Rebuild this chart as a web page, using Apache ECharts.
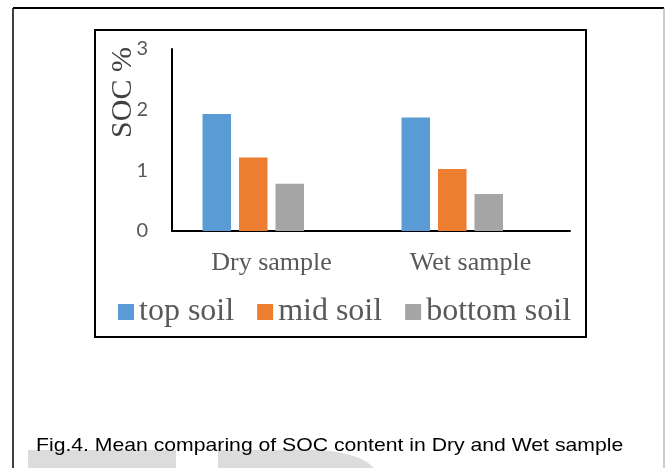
<!DOCTYPE html>
<html>
<head>
<meta charset="utf-8">
<script src="https://cdn.jsdelivr.net/npm/echarts@6/dist/echarts.min.js"></script>
<style>
html,body{margin:0;padding:0;background:#fff;}
#c{width:665px;height:468px;}
</style>
</head>
<body>
<div id="c"></div>
<script>
const categories = ['Dry sample', 'Wet sample'];
const topSoil = [1.93, 1.87];
const midSoil = [1.21, 1.02];
const bottomSoil = [0.78, 0.61];
const seriesNames = ['top soil', 'mid soil', 'bottom soil'];
const yTicks = [0, 1, 2, 3];
const caption = 'Fig.4. Mean comparing of SOC content in Dry and Wet sample';

const colors = ['#5B9BD5', '#ED7D31', '#A5A5A5'];
const chart = echarts.init(document.getElementById('c'), null, {renderer: 'canvas'});
const serif = 'Liberation Serif';

function barSeries(name, data, color) {
  return {
    name: name, type: 'bar', data: data, barWidth: 28.5, barGap: '28%',
    itemStyle: {color: color}
  };
}

chart.setOption({
  backgroundColor: '#fff',
  animation: false,
  grid: {left: 172, right: 95, top: 49, bottom: 237, containLabel: false},
  legend: {
    data: seriesNames,
    left: 113, top: 291,
    icon: 'rect', itemWidth: 16, itemHeight: 16, itemGap: 23,
    textStyle: {fontFamily: serif, fontSize: 32, color: '#595959'}
  },
  xAxis: {
    type: 'category', data: categories,
    axisLine: {lineStyle: {color: '#000', width: 2}},
    axisTick: {show: false},
    axisLabel: {fontFamily: serif, fontSize: 26, color: '#595959', margin: 19}
  },
  yAxis: {
    type: 'value', min: yTicks[0], max: yTicks[yTicks.length - 1], interval: 1,
    name: 'SOC %', nameLocation: 'middle', nameRotate: 90, nameGap: 34,
    nameMoveOverlap: false,
    nameTextStyle: {fontFamily: serif, fontSize: 30, color: '#404040', padding: [0, 0, 0, 95]},
    axisLine: {show: true, lineStyle: {color: '#000', width: 2}},
    axisTick: {show: false},
    splitLine: {show: false},
    axisLabel: {fontFamily: 'Lato', fontSize: 20, color: '#595959', margin: 24}
  },
  series: [
    barSeries(seriesNames[0], topSoil, colors[0]),
    barSeries(seriesNames[1], midSoil, colors[1]),
    barSeries(seriesNames[2], bottomSoil, colors[2]),
    {name: '', type: 'bar', data: [], barWidth: 28.5, barGap: '28%'}
  ],
  graphic: [
    {type: 'line', shape: {x1: 13, y1: 8, x2: 664, y2: 8}, style: {stroke: '#000', lineWidth: 2}, z: -1},
    {type: 'line', shape: {x1: 13, y1: 8, x2: 13, y2: 468}, style: {stroke: '#000', lineWidth: 1.5}, z: -1},
    {type: 'line', shape: {x1: 664, y1: 8, x2: 664, y2: 468}, style: {stroke: '#999', lineWidth: 1}, z: -1},
    {type: 'rect', shape: {x: 95, y: 30, width: 491, height: 307}, style: {fill: 'none', stroke: '#000', lineWidth: 2}, z: -1},
    {type: 'rect', shape: {x: 28, y: 450, width: 148, height: 18}, style: {fill: '#dcdcdc'}, z: -2},
    {type: 'polygon', shape: {points: [[218, 450], [312, 450], [330, 451], [345, 453.5], [358, 457.5], [367, 462], [374, 468], [218, 468]]}, style: {fill: '#dcdcdc'}, z: -2},
    {type: 'text', x: 36, y: 446, scaleX: 1.115, z: 5,
     style: {text: caption, fontFamily: 'Liberation Sans', fontSize: 19, fill: '#000', verticalAlign: 'middle', align: 'left'}}
  ]
});
</script>
</body>
</html>
